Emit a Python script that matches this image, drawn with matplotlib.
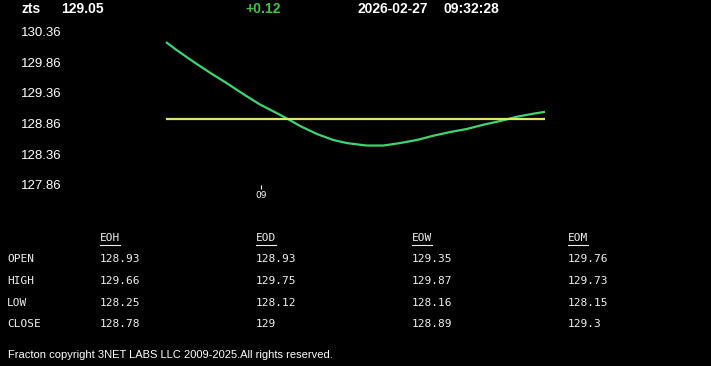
import matplotlib
matplotlib.use("Agg")
import matplotlib.pyplot as plt

# ---- data ----
symbol = "zts"
last_price = "129.05"
change = "+0.12"
date_str = "2026-02-27"
time_str = "09:32:28"

hours = [8.5, 8.556, 8.644, 8.732, 8.82, 8.908, 8.996, 9.084, 9.145, 9.207, 9.295,
         9.383, 9.454, 9.559, 9.647, 9.735, 9.823, 9.911, 9.999, 10.087, 10.175,
         10.263, 10.351, 10.439, 10.5]
prices = [130.19, 130.06, 129.87, 129.69, 129.52, 129.34, 129.17, 129.03, 128.93, 128.82, 128.69,
          128.59, 128.54, 128.50, 128.50, 128.54, 128.59, 128.66, 128.72, 128.77, 128.84,
          128.90, 128.97, 129.02, 129.05]
ref_level = 128.93

y_ticks = [127.86, 128.36, 128.86, 129.36, 129.86, 130.36]
x_ticks = [9.0]
x_tick_labels = ["09"]

periods = ["EOH", "EOD", "EOW", "EOM"]
row_names = ["OPEN", "HIGH", "LOW", "CLOSE"]
table_values = [
    ["128.93", "128.93", "129.35", "129.76"],
    ["129.66", "129.75", "129.87", "129.73"],
    ["128.25", "128.12", "128.16", "128.15"],
    ["128.78", "129", "128.89", "129.3"],
]
footer = "Fracton copyright 3NET LABS LLC 2009-2025.All rights reserved."

# ---- figure ----
W, H = 711, 366
fig = plt.figure(figsize=(W / 100, H / 100), dpi=100, facecolor="black")

def fx(px):
    return px / W

def fy(py):
    return 1 - py / H

ax_left, ax_right, ax_top, ax_bottom = 166, 545, 25, 185
ax = fig.add_axes([fx(ax_left), fy(ax_bottom), (ax_right - ax_left) / W, (ax_bottom - ax_top) / H])
ax.set_facecolor("black")
for s in ax.spines.values():
    s.set_visible(False)

ax.plot(hours, prices, color="#3fd46e", lw=1.6, clip_on=False, solid_capstyle="butt",
        solid_joinstyle="round")
ax.plot([hours[0], hours[-1]], [ref_level, ref_level], color="#dbe86a", lw=1.6, clip_on=False,
        solid_capstyle="butt")

ax.set_xlim(hours[0], hours[-1])
ax.set_ylim(127.855, 130.469)
ax.set_yticks(y_ticks)
ax.set_yticklabels([f"{v:.2f}" for v in y_ticks])
ax.tick_params(axis="y", length=0, pad=75, colors="white", labelsize=9.5)
for lbl in ax.get_yticklabels():
    lbl.set_fontfamily("Liberation Sans")
ax.set_xticks(x_ticks)
ax.set_xticklabels(x_tick_labels)
ax.tick_params(axis="x", length=3, width=0.8, pad=1, colors="white", labelsize=6.5, direction="out")

# ---- header ----
hdr = dict(fontsize=10, fontweight="bold", family="Liberation Sans", va="center", ha="left")
fig.text(fx(22), fy(9), symbol, color="white", **hdr)
fig.text(fx(61), fy(9), last_price, color="white", **hdr)
fig.text(fx(245), fy(9), change, color="#3cc83c", **hdr)
fig.text(fx(357), fy(9), date_str, color="white", **hdr)
fig.text(fx(443), fy(9), time_str, color="white", **hdr)

# ---- table ----
mono = dict(fontsize=8, family="DejaVu Sans Mono", color="#f0f0f0", va="center", ha="left")
col_x = [100, 256, 412, 568]
row_y = [259, 281, 303, 324]
for cx, name in zip(col_x, periods):
    fig.text(fx(cx), fy(238), name, **mono)
    fig.add_artist(plt.Line2D([fx(cx), fx(cx + 20)], [fy(245), fy(245)], color="#f0f0f0", lw=0.8))
for ry, rname, vals in zip(row_y, row_names, table_values):
    fig.text(fx(7), fy(ry), rname, **mono)
    for cx, v in zip(col_x, vals):
        fig.text(fx(cx), fy(ry), v, **mono)

fig.text(fx(8), fy(355), footer, color="white", fontsize=8,
         family=["Liberation Sans Narrow", "Liberation Sans"], va="center", ha="left")

fig.savefig("out.png", dpi=100, facecolor="black")
